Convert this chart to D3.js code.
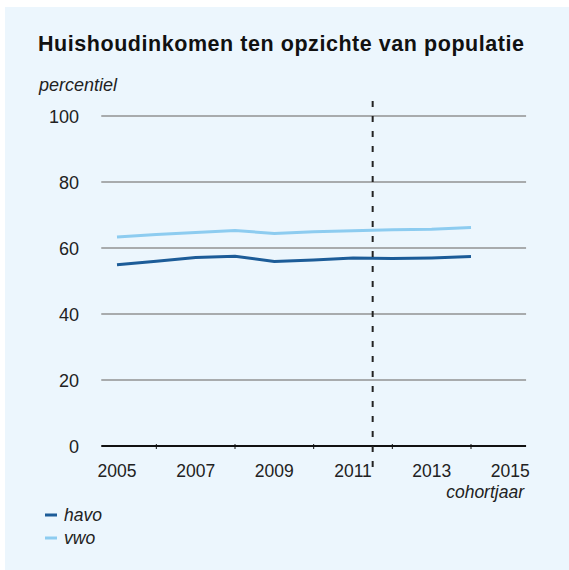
<!DOCTYPE html>
<html>
<head>
<meta charset="utf-8">
<script src="https://cdn.jsdelivr.net/npm/d3@7"></script>
<style>
  body { margin: 0; background: #fff; }
  text { font-family: "Liberation Sans", Arial, sans-serif; }
</style>
</head>
<body>
<script>
let years = [2005, 2006, 2007, 2008, 2009, 2010, 2011, 2012, 2013, 2014]
let havo = [54.9, 56, 57.1, 57.5, 55.9, 56.4, 57, 56.8, 57, 57.4]
let vwo = [63.3, 64.1, 64.7, 65.3, 64.4, 64.9, 65.2, 65.5, 65.7, 66.2]
let x_ticks = [2005, 2007, 2009, 2011, 2013, 2015]
let minor_ticks = [2006, 2008, 2010, 2012, 2014]
let y_ticks = [0, 20, 40, 60, 80, 100]
let marker_year = 2011.5
let series_names = ['havo', 'vwo']

let width = 569
let height = 570
let havo_color = '#1c5c98'
let vwo_color = '#8dccf0'
let bg_color = '#ecf6fd'
let text_color = '#222'

let x = d3.scaleLinear().domain([2005, 2014]).range([117, 471])
let y = d3.scaleLinear().domain([0, 100]).range([446, 116])

let svg = d3.select('body')
    .append('svg')
    .attr('width', width)
    .attr('height', height)

svg.append('rect')
    .attr('x', 5)
    .attr('y', 7)
    .attr('width', width - 5)
    .attr('height', height - 7)
    .attr('fill', bg_color)

svg.append('text')
    .attr('x', 38)
    .attr('y', 51)
    .attr('font-size', 21.5)
    .attr('font-weight', 'bold')
    .attr('letter-spacing', 0.55)
    .attr('fill', '#111')
    .text('Huishoudinkomen ten opzichte van populatie')

svg.append('text')
    .attr('x', 39)
    .attr('y', 91)
    .attr('font-size', 18)
    .attr('font-style', 'italic')
    .attr('fill', text_color)
    .text('percentiel')

let x_left = x(2004.6)
let x_right = x(2015.4)

// grid lines
svg.selectAll('.grid')
    .data(y_ticks.filter(d => d > 0))
    .enter()
    .append('line')
    .attr('x1', x_left)
    .attr('x2', x_right)
    .attr('y1', d => y(d))
    .attr('y2', d => y(d))
    .attr('stroke', '#929292')
    .attr('stroke-width', 1.3)

svg.selectAll('.ylab')
    .data(y_ticks)
    .enter()
    .append('text')
    .attr('x', 79)
    .attr('y', d => y(d) + 7)
    .attr('text-anchor', 'end')
    .attr('font-size', 18)
    .attr('fill', text_color)
    .text(d => d)

// x axis
svg.append('line')
    .attr('x1', x_left)
    .attr('x2', x_right)
    .attr('y1', y(0))
    .attr('y2', y(0))
    .attr('stroke', '#111')
    .attr('stroke-width', 2)

svg.selectAll('.tick')
    .data(minor_ticks)
    .enter()
    .append('line')
    .attr('x1', d => x(d))
    .attr('x2', d => x(d))
    .attr('y1', y(0) - 2)
    .attr('y2', y(0) + 3)
    .attr('stroke', '#111')
    .attr('stroke-width', 1)

svg.selectAll('.xlab')
    .data(x_ticks)
    .enter()
    .append('text')
    .attr('x', d => x(d))
    .attr('y', 477)
    .attr('text-anchor', 'middle')
    .attr('font-size', 17.5)
    .attr('fill', text_color)
    .text(d => d)

svg.append('text')
    .attr('x', 524)
    .attr('y', 498)
    .attr('text-anchor', 'end')
    .attr('font-size', 17.5)
    .attr('font-style', 'italic')
    .attr('fill', text_color)
    .text('cohortjaar')

// series
let line = d3.line()
    .x((d, i) => x(years[i]))
    .y(d => y(d))

svg.append('path')
    .datum(vwo)
    .attr('d', line)
    .attr('fill', 'none')
    .attr('stroke', vwo_color)
    .attr('stroke-width', 3)

svg.append('path')
    .datum(havo)
    .attr('d', line)
    .attr('fill', 'none')
    .attr('stroke', havo_color)
    .attr('stroke-width', 3)

// marker line
svg.append('line')
    .attr('x1', x(marker_year))
    .attr('x2', x(marker_year))
    .attr('y1', 101)
    .attr('y2', 468)
    .attr('stroke', '#222')
    .attr('stroke-width', 2)
    .attr('stroke-dasharray', '6,9')

// legend
let colors = [havo_color, vwo_color]
series_names.forEach((name, i) => {
    let ly = 515 + i * 23
    svg.append('line')
        .attr('x1', 45)
        .attr('x2', 57)
        .attr('y1', ly)
        .attr('y2', ly)
        .attr('stroke', colors[i])
        .attr('stroke-width', 3)
    svg.append('text')
        .attr('x', 64)
        .attr('y', ly + 6)
        .attr('font-size', 17.5)
        .attr('font-style', 'italic')
        .attr('fill', text_color)
        .text(name)
})
</script>
</body>
</html>
